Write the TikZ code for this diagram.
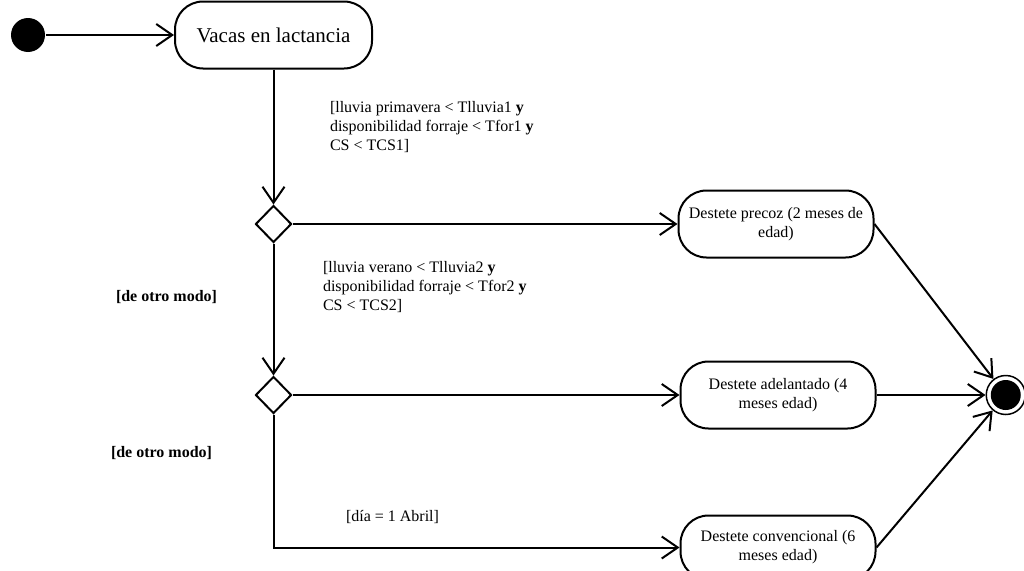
\documentclass[tikz,border=0pt]{standalone}
\usepackage{fontspec}
\setmainfont{Liberation Serif}
\usepackage{tikz}
\usetikzlibrary{positioning,shapes.geometric,arrows.meta}

\begin{document}
\begin{tikzpicture}[x=1pt, y=-1pt, line width=2pt]
	% Define styles for nodes
	\tikzset{
		actividad/.style={
			rectangle,
			draw,
			rounded corners=28pt,
			minimum width=195pt,
			minimum height=67pt,
			align=center,
			font=\fontsize{16}{19}\selectfont
		},
		decision/.style={
			diamond,
			draw,
			minimum width=36pt,
			minimum height=37pt,
			inner sep=0pt
		},
		inicial/.style={circle, fill, minimum size=34pt, inner sep=0pt},
		nodofinal/.style={
			circle,
			draw,
			line width=1.5pt,
			minimum size=39pt,
			inner sep=0pt,
			path picture={\fill (path picture bounding box.center) circle (15pt);}
		},
		guarda/.style={anchor=west, inner sep=0pt, align=left, font=\fontsize{16}{19}\selectfont},
		flecha/.style={-{Straight Barb[length=16pt,width=22pt]}}
	}
	\useasboundingbox (0,0) rectangle (1024,570);
	
	% Nodes for the main flow
	\node[inicial] (inicio) at (28,35) {};
	\node[actividad, right=128pt of inicio, minimum width=197pt, font=\fontsize{21}{25}\selectfont] (vacas) {Vacas en lactancia};
	\node[decision, below=135pt of vacas] (decision1) {};
	\node[decision, below=132pt of decision1] (decision2) {};
	
	% Weaning nodes
	\node[actividad, right=385pt of decision1] (precoz) {Destete precoz (2 meses de\\edad)};
	\node[actividad, right=387pt of decision2] (adelantado) {Destete adelantado (4\\meses edad)};
	\node[actividad, below=85pt of adelantado, minimum height=64pt] (convencional) {Destete convencional (6\\meses edad)};
	\node[nodofinal, right=109pt of adelantado] (fin) {};
	\coordinate (esquina) at (decision2.south |- convencional.west);
	
	% Arrows for the main flow
	\draw[flecha] (inicio) -- (vacas);
	\draw[flecha] (vacas) -- (decision1);
	\draw[flecha] (decision1) -- (precoz);
	\draw[flecha] (decision1) -- (decision2);
	\draw[flecha] (decision2) -- (adelantado);
	\draw[flecha] (decision2.south) -- (esquina) -- (convencional);
	
	% Arrows to the final state
	\draw[flecha] (precoz.east) -- (fin);
	\draw[flecha] (adelantado) -- (fin);
	\draw[flecha] (convencional.east) -- (fin);
	
	% Guard labels
	\node[guarda] (guarda1) at (329,127) {[lluvia primavera < Tlluvia1 \textbf{y}\\disponibilidad forraje < Tfor1 \textbf{y}\\CS < TCS1]};
	\node[guarda] (guarda2) at (322,287) {[lluvia verano < Tlluvia2 \textbf{y}\\disponibilidad forraje < Tfor2 \textbf{y}\\CS < TCS2]};
	\node[guarda] (otro1) at (115,297) {\textbf{[de otro modo]}};
	\node[guarda] (otro2) at (110,453) {\textbf{[de otro modo]}};
	\node[guarda] (guarda3) at (345,517) {[día = 1 Abril]};
\end{tikzpicture}
\end{document}
